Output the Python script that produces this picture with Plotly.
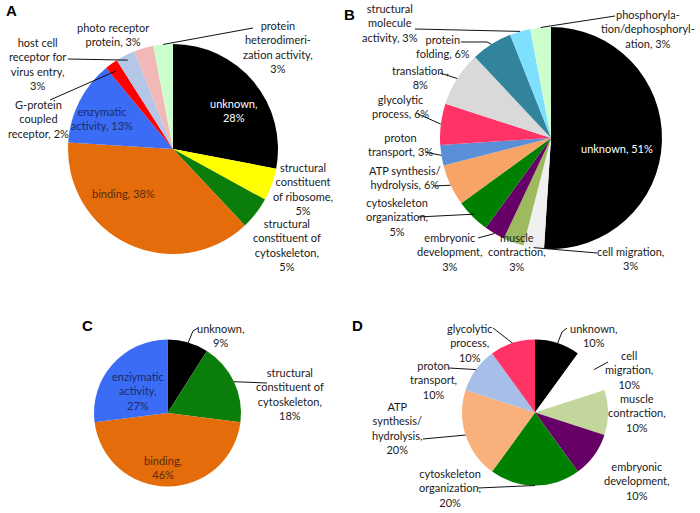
import math
import plotly.graph_objects as go

W, H = 700, 513

# ---------------- data ----------------
a_labels = ["unknown", "structural constituent of ribosome", "structural constituent of cytoskeleton",
            "binding", "enzymatic activity", "G-protein coupled receptor",
            "host cell receptor for virus entry", "photo receptor protein",
            "protein heterodimerization activity"]
a_values = [28, 5, 5, 38, 13, 2, 3, 3, 3]
a_text = ["unknown,<br>{}%", "structural<br>constituent<br>of ribosome,<br>{}%",
          "structural<br>constituent of<br>cytoskeleton,<br>{}%", "binding, {}%",
          "enzymatic<br>activity, {}%", "G-protein<br>coupled<br>receptor, {}%",
          "host cell<br>receptor for<br>virus entry,<br>{}%", "photo receptor<br>protein, {}%",
          "protein<br>heterodimeri-<br>zation activity,<br>{}%"]

b_labels = ["unknown", "cell migration", "muscle contraction", "embryonic development",
            "cytoskeleton organization", "ATP synthesis/hydrolysis", "proton transport",
            "glycolytic process", "translation", "protein folding",
            "structural molecule activity", "phosphorylation/dephosphorylation"]
b_values = [51, 3, 3, 3, 5, 6, 3, 6, 8, 6, 3, 3]
b_text = ["unknown, {}%", "cell migration,<br>{}%", "muscle<br>contraction,<br>{}%",
          "embryonic<br>development,<br>{}%", "cytoskeleton<br>organization,<br>{}%",
          "ATP synthesis/<br>hydrolysis, {}%", "proton<br>transport, {}%",
          "glycolytic<br>process, {}%", "translation ,<br>{}%", "protein<br>folding, {}%",
          "structural<br>molecule<br>activity, {}%",
          "phosphoryla-<br>tion/dephosphoryl-<br>ation, {}%"]

c_labels = ["unknown", "structural constituent of cytoskeleton", "binding", "enziymatic activity"]
c_values = [9, 18, 46, 27]
c_text = ["unknown,<br>{}%", "structural<br>constituent of<br>cytoskeleton,<br>{}%",
          "binding,<br>{}%", "enziymatic<br>activity,<br>{}%"]

d_labels = ["unknown", "cell migration", "muscle contraction", "embryonic development",
            "cytoskeleton organization", "ATP synthesis/hydrolysis", "proton transport",
            "glycolytic process"]
d_values = [10, 10, 10, 10, 20, 20, 10, 10]
d_text = ["unknown,<br>{}%", "cell<br>migration,<br>{}%", "muscle<br>contraction,<br>{}%",
          "embryonic<br>development,<br>{}%", "cytoskeleton<br>organization,<br>{}%",
          "ATP<br>synthesis/<br>hydrolysis,<br>{}%", "proton<br>transport,<br>{}%",
          "glycolytic<br>process,<br>{}%"]

panel_letters = ["A", "B", "C", "D"]

# ---------------- styles ----------------
a_colors = ["#000000", "#FFFF00", "#0A7D0A", "#E46C0A", "#3A6CF5", "#FF0000",
            "#B4C7E7", "#F2B8B8", "#CCFFCC"]
b_colors = ["#000000", "#F0F0F0", "#9DBB5E", "#660066", "#008000", "#F8A467",
            "#5A8FD8", "#FF3366", "#D9D9D9", "#31849B", "#7FDFFF", "#CCFFCC"]
c_colors = ["#000000", "#0A7D0A", "#E46C0A", "#3A6CF5"]
d_colors = ["#000000", "#FFFFFF", "#C3D69B", "#660066", "#008000", "#FAB07A",
            "#A6BEE8", "#FF3366"]

TXT = "#1A1A1A"
BROWN = "#5A2A0A"
NAVY = "#1A2A6C"

# label layout: (x px, y px, colour, leader polyline start points, tip radius factor)
a_layout = [
    (233, 110, "white", None, 1),
    (303, 189, TXT, None, 1),
    (287, 245, TXT, None, 1),
    (123, 193, BROWN, None, 1),
    (102, 118, NAVY, None, 1),
    (38, 119, TXT, [(50, 100)], 0.92),
    (37, 64, TXT, [(68, 59)], 0.95),
    (113, 35, TXT, None, 1),
    (278, 47, TXT, [(253, 28)], 1.0),
]
b_layout = [
    (617, 148, "white", None, 1),
    (630, 258, TXT, [(597, 253)], 1.0),
    (517, 252, TXT, None, 1),
    (450, 252, TXT, [(478, 238)], 1.0),
    (397, 217, TXT, [(418, 217)], 0.97),
    (405, 177, TXT, [(433, 186)], 1.0),
    (400, 144, TXT, [(425, 152)], 1.0),
    (400, 107, TXT, [(418, 114)], 1.0),
    (420, 77, TXT, [(440, 73)], 1.0),
    (443, 46, TXT, [(461, 42), (487, 42)], 1.0),
    (390, 23, TXT, [(415, 29)], 1.0),
    (648, 29, TXT, [(615, 16)], 1.0),
]
c_layout = [
    (220, 335, TXT, [(198, 328), (193, 331)], 0.97),
    (290, 394, TXT, [(267, 383)], 1.0),
    (163, 467, BROWN, None, 1),
    (138, 391, NAVY, None, 1),
]
d_layout = [
    (593, 335, TXT, [(567, 328), (562, 332)], 0.97),
    (629, 370, TXT, [(608, 362)], 1.0),
    (637, 413, TXT, None, 1),
    (637, 481, TXT, None, 1),
    (450, 488, TXT, [(478, 488)], 1.0),
    (397, 428, TXT, [(423, 439)], 1.0),
    (433, 380, TXT, [(449, 368)], 1.0),
    (470, 343, TXT, [(493, 328)], 1.0),
]

letter_pos = [(11, 11), (349, 15), (87, 325), (357, 325)]

FONT = "Lato"
FS = 11

fig = go.Figure()
annotations = []
shapes = []


def px(x, y):
    return x / W, 1 - y / H


def add_panel(labels, values, texts, colors, cx, cy, r, layout):
    fig.add_trace(go.Pie(
        labels=labels, values=values, sort=False, direction="clockwise", rotation=0,
        marker=dict(colors=colors, line=dict(width=0)),
        textinfo="none", showlegend=False, hoverinfo="label+percent",
        domain=dict(x=[(cx - r) / W, (cx + r) / W], y=[1 - (cy + r) / H, 1 - (cy - r) / H]),
    ))
    total = float(sum(values))
    cum = 0.0
    for i, v in enumerate(values):
        mid = (cum + v / 2.0) / total
        cum += v
        th = 2 * math.pi * mid
        tx, ty, col, path, rf = layout[i]
        ax_, ay_ = px(tx, ty)
        annotations.append(dict(
            x=ax_, y=ay_, xref="paper", yref="paper", text=texts[i].format(v),
            showarrow=False, xanchor="center", yanchor="middle", align="center",
            font=dict(family=FONT, size=FS, color=col),
        ))
        if path:
            tip = (cx + rf * r * math.sin(th), cy - rf * r * math.cos(th))
            pts = list(path) + [tip]
            d = ""
            for k, (x, y) in enumerate(pts):
                X, Y = px(x, y)
                d += ("M" if k == 0 else " L") + f"{X:.5f},{Y:.5f}"
            shapes.append(dict(type="path", path=d, xref="paper", yref="paper",
                               line=dict(color="#111111", width=1)))


add_panel(a_labels, a_values, a_text, a_colors, 173, 149, 105, a_layout)
add_panel(b_labels, b_values, b_text, b_colors, 551, 138, 111, b_layout)
add_panel(c_labels, c_values, c_text, c_colors, 167.5, 413, 73.5, c_layout)
add_panel(d_labels, d_values, d_text, d_colors, 535, 412.5, 73, d_layout)

for letter, (lx, ly) in zip(panel_letters, letter_pos):
    X, Y = px(lx, ly)
    annotations.append(dict(x=X, y=Y, xref="paper", yref="paper", text=f"<b>{letter}</b>",
                            showarrow=False, xanchor="center", yanchor="middle",
                            font=dict(family="Liberation Sans", size=15, color="#000000")))

fig.update_layout(
    width=W, height=H, margin=dict(l=0, r=0, t=0, b=0),
    paper_bgcolor="white", plot_bgcolor="white",
    annotations=annotations, shapes=shapes,
)

fig.write_html("out.html", config={"displayModeBar": False},
               post_script="document.body.style.margin='0px';document.body.style.overflow='hidden';")
